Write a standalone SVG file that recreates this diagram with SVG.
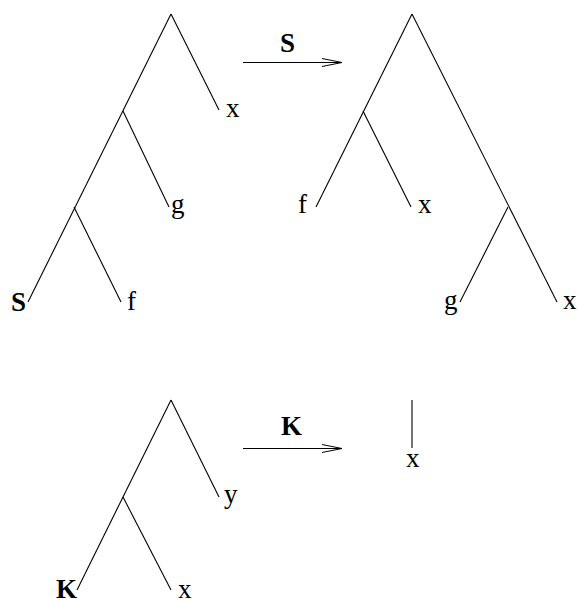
<svg xmlns="http://www.w3.org/2000/svg" width="578" height="599" viewBox="0 0 578 599">
<defs>
<marker id="open" markerWidth="22" markerHeight="10" refX="21" refY="5" orient="auto" markerUnits="userSpaceOnUse">
<path d="M1,1 L21,5 L1,9" fill="none" stroke="#000" stroke-width="1"/>
</marker>
</defs>
<style>
.e{stroke:#000;stroke-width:1.1;fill:none}
.a{stroke:#000;stroke-width:1.1;fill:none;marker-end:url(#open)}
text{font-family:"Liberation Serif","Times New Roman",serif;font-size:27px;fill:#000}
.b{font-weight:bold}
</style>
<rect width="578" height="599" fill="#fff"/>
<g id="connectors">
<line class="e" x1="171" y1="14" x2="28" y2="302"/>
<line class="e" x1="171" y1="14" x2="219" y2="110"/>
<line class="e" x1="123" y1="111" x2="169" y2="207"/>
<line class="e" x1="74" y1="207" x2="121" y2="302"/>
<line class="e" x1="412" y1="14" x2="316" y2="207"/>
<line class="e" x1="412" y1="14" x2="557" y2="302"/>
<line class="e" x1="363" y1="111" x2="411" y2="207"/>
<line class="e" x1="508" y1="207" x2="460" y2="302"/>
<line class="e" x1="171" y1="400" x2="77" y2="590"/>
<line class="e" x1="171" y1="400" x2="219" y2="497"/>
<line class="e" x1="123" y1="497" x2="171" y2="590"/>
<line class="e" x1="412" y1="400" x2="412" y2="448"/>
<line class="a" x1="243" y1="62.5" x2="342" y2="62.5"/>
<line class="a" x1="243" y1="448.5" x2="342" y2="448.5"/>
</g>
<g id="tree1">
<text x="226" y="117">x</text>
<text x="171" y="213">g</text>
<text class="b" x="11" y="311">S</text>
<text x="127" y="310">f</text>
</g>
<g id="arrowS"><text class="b" x="280" y="52">S</text></g>
<g id="tree2">
<text x="298" y="213">f</text>
<text x="418" y="213">x</text>
<text x="444" y="309">g</text>
<text x="563" y="309">x</text>
</g>
<g id="tree3">
<text x="224" y="503">y</text>
<text class="b" x="56" y="598">K</text>
<text x="178" y="598">x</text>
</g>
<g id="arrowK"><text class="b" x="281" y="435">K</text></g>
<g id="result"><text x="406" y="467">x</text></g>
</svg>
